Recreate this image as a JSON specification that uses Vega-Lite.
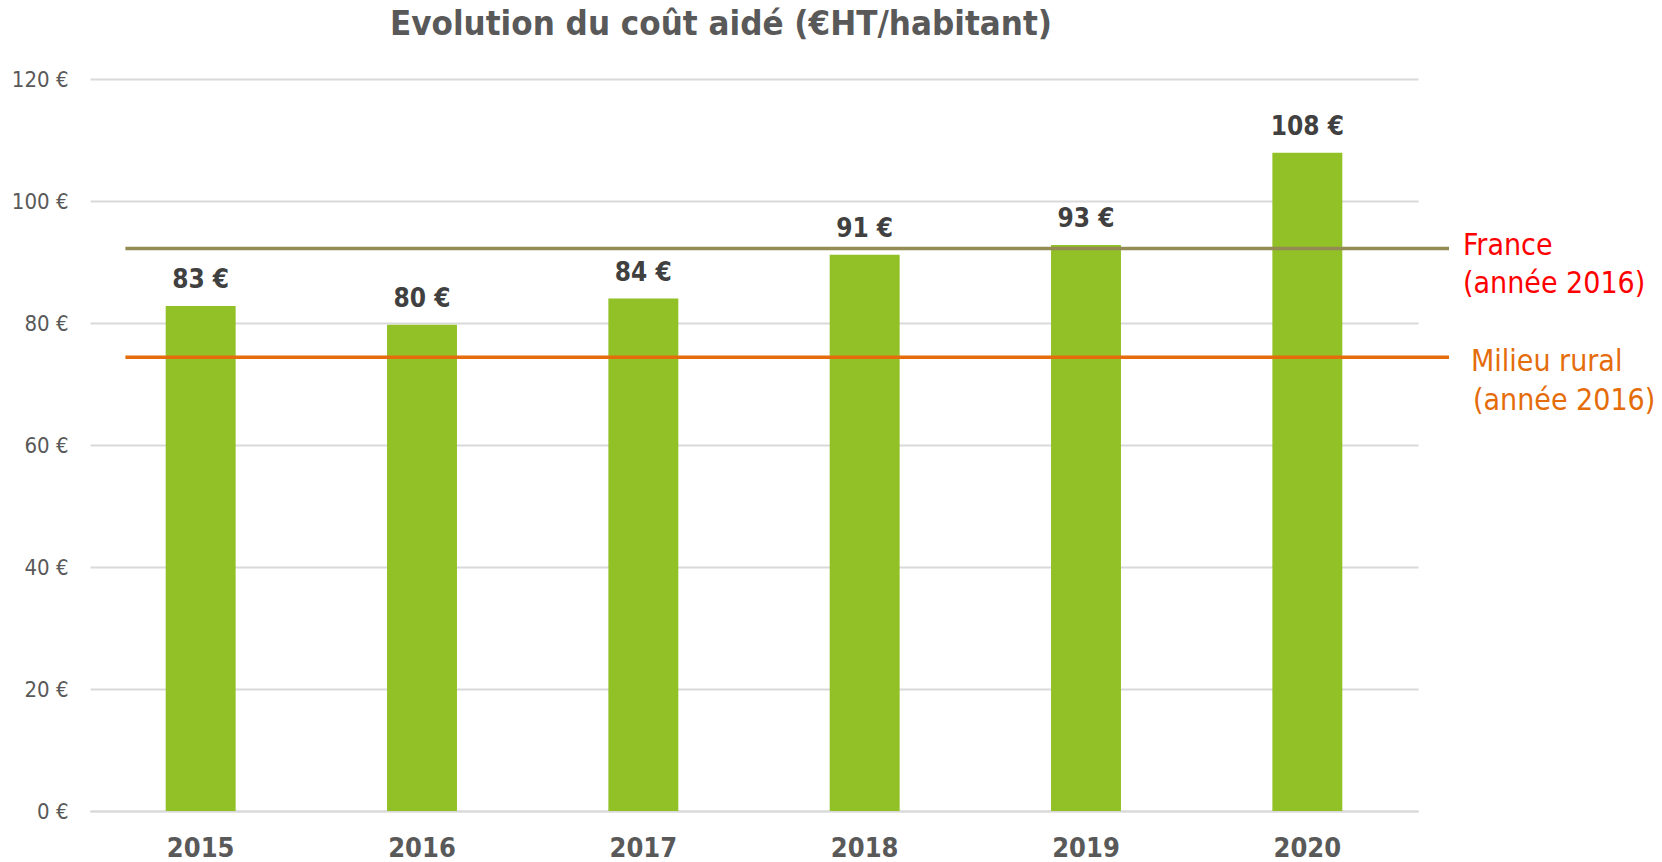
{
  "$schema": "https://vega.github.io/schema/vega-lite/v6.json",
  "autosize": "none",
  "width": 1328,
  "height": 732,
  "padding": {"left": 90, "top": 79, "right": 244, "bottom": 51},
  "background": "white",
  "config": {
    "view": {"stroke": null},
    "font": "DejaVu Sans Condensed"
  },
  "title": {
    "text": "Evolution du coût aidé (€HT/habitant)",
    "font": "DejaVu Sans Condensed",
    "fontSize": 34.6,
    "fontWeight": "bold",
    "color": "#595959",
    "anchor": "middle",
    "dx": -33,
    "offset": 25
  },
  "datasets": {
    "bars": [
      {"year": "2015", "cost": 82.8, "label": "83 €"},
      {"year": "2016", "cost": 79.7, "label": "80 €"},
      {"year": "2017", "cost": 84.0, "label": "84 €"},
      {"year": "2018", "cost": 91.2, "label": "91 €"},
      {"year": "2019", "cost": 92.8, "label": "93 €"},
      {"year": "2020", "cost": 107.9, "label": "108 €"}
    ],
    "france": [
      {"ref": "France\n(année 2016)", "value": 92.2, "from": 2014.66, "to": 2020.64}
    ],
    "rural": [
      {"ref": "Milieu rural", "value": 74.4, "from": 2014.66, "to": 2020.64}
    ]
  },
  "layer": [
    {
      "data": {"name": "bars"},
      "mark": {"type": "bar", "color": "#92C127"},
      "encoding": {
        "x": {
          "field": "year", "type": "nominal",
          "scale": {"paddingInner": 0.684, "paddingOuter": 0.342},
          "axis": {
            "title": null, "labelAngle": 0, "ticks": false, "tickSize": 0,
            "domain": true, "domainColor": "#D9D9D9", "domainWidth": 2,
            "labelFont": "DejaVu Sans Condensed", "labelFontSize": 27, "labelFontWeight": "bold",
            "labelColor": "#595959", "labelPadding": 24, "grid": false
          }
        },
        "y": {
          "field": "cost", "type": "quantitative",
          "scale": {"domain": [0, 120], "nice": false},
          "axis": {
            "title": null, "values": [0, 20, 40, 60, 80, 100, 120],
            "labelExpr": "datum.value + ' €'",
            "ticks": false, "tickSize": 0, "domain": false,
            "grid": true, "gridColor": "#D9D9D9", "gridWidth": 2,
            "labelFont": "DejaVu Sans Condensed", "labelFontSize": 22,
            "labelColor": "#595959", "labelPadding": 22
          }
        }
      }
    },
    {
      "data": {"name": "bars"},
      "mark": {"type": "text", "font": "DejaVu Sans Condensed", "fontSize": 26, "fontWeight": "bold",
               "color": "#404040", "align": "center", "baseline": "alphabetic", "dy": -18},
      "encoding": {
        "x": {"field": "year", "type": "nominal",
              "scale": {"paddingInner": 0.684, "paddingOuter": 0.342}, "axis": null},
        "y": {"field": "cost", "type": "quantitative"},
        "text": {"field": "label"}
      }
    },
    {
      "data": {"name": "france"},
      "mark": {"type": "rule", "color": "#948A54", "strokeWidth": 3.5},
      "encoding": {
        "x": {"field": "from", "type": "quantitative",
              "scale": {"domain": [2014.5, 2020.5], "nice": false, "zero": false}, "axis": null},
        "x2": {"field": "to"},
        "y": {"field": "value", "type": "quantitative"}
      }
    },
    {
      "data": {"name": "rural"},
      "mark": {"type": "rule", "color": "#E46C0A", "strokeWidth": 3.5},
      "encoding": {
        "x": {"field": "from", "type": "quantitative",
              "scale": {"domain": [2014.5, 2020.5], "nice": false, "zero": false}, "axis": null},
        "x2": {"field": "to"},
        "y": {"field": "value", "type": "quantitative"}
      }
    },
    {
      "data": {"name": "france"},
      "mark": {"type": "text", "font": "DejaVu Sans Condensed", "fontSize": 30, "color": "#FF0000",
               "align": "left", "baseline": "alphabetic", "lineBreak": "\n", "lineHeight": 38,
               "dx": 14, "dy": 6},
      "encoding": {
        "x": {"field": "to", "type": "quantitative",
              "scale": {"domain": [2014.5, 2020.5], "nice": false, "zero": false}, "axis": null},
        "y": {"field": "value", "type": "quantitative"},
        "text": {"field": "ref"}
      }
    },
    {
      "data": {"name": "rural"},
      "mark": {"type": "text", "font": "DejaVu Sans Condensed", "fontSize": 30, "color": "#E46C0A",
               "align": "left", "baseline": "alphabetic", "dx": 22, "dy": 14},
      "encoding": {
        "x": {"field": "to", "type": "quantitative",
              "scale": {"domain": [2014.5, 2020.5], "nice": false, "zero": false}, "axis": null},
        "y": {"field": "value", "type": "quantitative"},
        "text": {"field": "ref"}
      }
    },
    {
      "data": {"name": "rural"},
      "mark": {"type": "text", "font": "DejaVu Sans Condensed", "fontSize": 30, "color": "#E46C0A",
               "align": "left", "baseline": "alphabetic", "dx": 24, "dy": 53},
      "encoding": {
        "x": {"field": "to", "type": "quantitative",
              "scale": {"domain": [2014.5, 2020.5], "nice": false, "zero": false}, "axis": null},
        "y": {"field": "value", "type": "quantitative"},
        "text": {"value": "(année 2016)"}
      }
    }
  ],
  "resolve": {"scale": {"x": "independent"}}
}
